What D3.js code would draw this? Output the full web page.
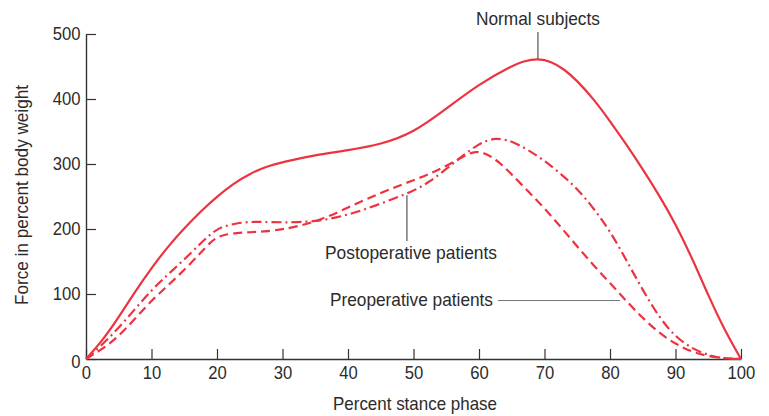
<!DOCTYPE html>
<html>
<head>
<meta charset="utf-8">
<script src="https://cdn.jsdelivr.net/npm/d3@7"></script>
<style>
  html, body { margin: 0; padding: 0; background: #fff; }
  svg { display: block; }
  text { font-family: "Liberation Sans", Arial, sans-serif; fill: #2b2b2b; }
</style>
</head>
<body>
<svg id="chart" width="769" height="416"></svg>
<script>
// Stance phase (%) and force (% body weight) for each group
const normalPhase = [0, 2.5, 5, 7.5, 10, 12.5, 15, 17.5, 20, 22.5, 25, 27.5, 30, 35, 40, 45, 50, 55, 60, 65, 67, 69, 71, 73, 75, 77.5, 80, 82.5, 85, 87.5, 90, 92.5, 95, 97.5, 100];
const normalForce = [0, 28, 64, 104, 140, 173, 201, 227, 250, 270, 285, 296, 303, 314, 321, 330, 348, 385, 423, 451, 459, 462, 458, 446, 428, 400, 366, 330, 292, 252, 208, 156, 98, 44, 0];

const postPhase = [0, 2.5, 5, 7.5, 10, 12.5, 15, 17.5, 19, 20, 21, 23, 25, 27, 30, 35, 40, 45, 50, 52.5, 55, 57.5, 60, 61.5, 62.5, 63.5, 65, 67.5, 70, 72.5, 75, 77.5, 80, 82.5, 85, 87.5, 90, 92.5, 95, 97, 100];
const postForce = [0, 22, 48, 77, 106, 130, 153, 178, 192, 199, 204, 209, 211, 211, 210, 211, 221, 239, 258, 273, 292, 313, 331, 337, 339, 338.5, 335, 322, 305, 285, 262, 232, 197, 152, 106, 64, 34, 16, 6, 1, 0];

const prePhase = [0, 2.5, 5, 7.5, 10, 12.5, 15, 17.5, 19, 20, 21, 23, 25, 27, 30, 35, 40, 45, 50, 52.5, 55, 57.5, 58.5, 59.5, 60.5, 62, 63.5, 65, 67.5, 70, 72.5, 75, 77.5, 80, 82.5, 85, 87.5, 90, 92.5, 95, 97.5, 100];
const preForce = [0, 15, 35, 62, 90, 113, 137, 163, 180, 187, 191, 194, 195, 196, 199, 210, 233, 256, 275, 285, 297, 311, 316, 319, 318, 311, 299, 284, 258, 232, 203, 173, 144, 117, 89, 63, 40, 23, 11, 4, 1, 0];

const xTicks = [0, 10, 20, 30, 40, 50, 60, 70, 80, 90, 100];
const yTicks = [0, 100, 200, 300, 400, 500];

const svg = d3.select("#chart");
const x = d3.scaleLinear().domain([0, 100]).range([86, 741]);
const y = d3.scaleLinear().domain([0, 500]).range([359, 34]);

const red = "#ec3340";
const axisColor = "#333";
const fontSize = 18.5;

// Axes: ticks point inward
const xAxis = d3.axisBottom(x).tickValues(xTicks).tickSizeInner(-10).tickSizeOuter(0).tickPadding(7);
const yAxis = d3.axisLeft(y).tickValues(yTicks).tickSizeInner(-10).tickSizeOuter(0).tickPadding(6);

const gx = svg.append("g").attr("transform", `translate(0,${y(0)})`).call(xAxis);
const gy = svg.append("g").attr("transform", `translate(${x(0)},0)`).call(yAxis);

[gx, gy].forEach(g => {
  g.select(".domain").attr("stroke", axisColor).attr("stroke-width", 1.4);
  g.selectAll(".tick line").attr("stroke", axisColor).attr("stroke-width", 1.2);
  g.selectAll(".tick text")
    .attr("font-size", fontSize).attr("fill", "#2b2b2b")
    .attr("transform", "scale(0.9,1)")
    .style("font-family", '"Liberation Sans", Arial, sans-serif');
});
gy.selectAll(".tick").filter(d => d === 0).select("text").attr("dy", "0.45em");

// Condensed label helper
function label(tx, ty, str, width, anchor, rotate) {
  return svg.append("text")
    .attr("transform", `translate(${tx},${ty})` + (rotate ? ` rotate(${rotate})` : ""))
    .attr("text-anchor", anchor)
    .attr("font-size", fontSize)
    .attr("textLength", width)
    .attr("lengthAdjust", "spacingAndGlyphs")
    .text(str);
}

// Axis titles
label(415, 410, "Percent stance phase", 164, "middle");
label(28, 195, "Force in percent body weight", 220, "middle", -90);

// Curves (B-spline for a smooth trace through the sampled values)
const line = d3.line().curve(d3.curveBasis).x(d => x(d[0])).y(d => y(d[1]));

function drawCurve(phase, force, dash) {
  svg.append("path")
    .datum(d3.zip(phase, force))
    .attr("fill", "none")
    .attr("stroke", red)
    .attr("stroke-width", 2.2)
    .attr("stroke-dasharray", dash)
    .attr("d", line);
}

drawCurve(normalPhase, normalForce, null);
drawCurve(prePhase, preForce, "9,5");
drawCurve(postPhase, postForce, "10,4,2,4");

// Annotations with leader lines
svg.append("line")
  .attr("x1", x(69)).attr("x2", x(69))
  .attr("y1", 32).attr("y2", y(462))
  .attr("stroke", "#333").attr("stroke-width", 1);
label(x(69), 25, "Normal subjects", 124, "middle");

svg.append("line")
  .attr("x1", x(49)).attr("x2", x(49))
  .attr("y1", y(252)).attr("y2", 241)
  .attr("stroke", "#333").attr("stroke-width", 1);
label(411, 259, "Postoperative patients", 172, "middle");

label(493, 306, "Preoperative patients", 163, "end");
svg.append("line")
  .attr("x1", 498).attr("x2", 620)
  .attr("y1", 300.5).attr("y2", 300.5)
  .attr("stroke", "#777").attr("stroke-width", 1.2);
</script>
</body>
</html>
